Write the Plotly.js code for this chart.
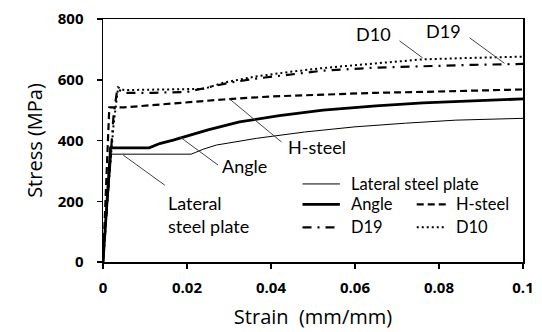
<!DOCTYPE html>
<html><head><meta charset="utf-8">
<script src="https://cdn.plot.ly/plotly-3.0.1.min.js"></script>
<style>html,body{margin:0;padding:0;background:#fff}#c{width:542px;height:332px}</style>
</head><body><div id="c"></div>
<script>
// Data (strain mm/mm, stress MPa)
const lateralStrain = [0, 0.002, 0.021, 0.024, 0.027, 0.0365, 0.048, 0.06, 0.072, 0.084, 0.1];
const lateralStress = [0, 355, 355, 372, 385, 407, 428, 445, 457, 467, 473];
const angleStrain = [0, 0.0018, 0.011, 0.0135, 0.0167, 0.025, 0.0325, 0.042, 0.0524, 0.065, 0.0762, 0.088, 0.1];
const angleStress = [0, 376, 376, 390, 401, 435, 461, 482, 500, 514, 524, 531, 537];
const hsteelStrain = [0, 0.0015, 0.005, 0.015, 0.0286, 0.04, 0.0524, 0.065, 0.076, 0.088, 0.1];
const hsteelStress = [0, 509, 509, 520, 535, 545, 552, 557, 560, 565, 568];
const d10Strain = [0, 0.001, 0.0025, 0.0036, 0.005, 0.012, 0.02, 0.024, 0.0286, 0.036, 0.0445, 0.052, 0.06, 0.068, 0.076, 0.088, 0.1];
const d10Stress = [0, 200, 450, 575, 566, 567, 567, 570, 590, 610, 626, 638, 648, 658, 667, 672, 676];
const d19Strain = [0, 0.001, 0.0025, 0.0034, 0.005, 0.012, 0.02, 0.025, 0.03, 0.0365, 0.0445, 0.0524, 0.065, 0.076, 0.088, 0.1];
const d19Stress = [0, 200, 480, 570, 557, 557, 560, 575, 590, 604, 618, 630, 640, 645, 649, 652];
const xTicks = [0, 0.02, 0.04, 0.06, 0.08, 0.1];
const xTickText = ['0', '0.02', '0.04', '0.06', '0.08', '0.1'];
const yTicks = [0, 200, 400, 600, 800];

const lblFont = {family: 'Lato, "Open Sans", sans-serif', size: 18, color: '#000'};
const legFont = {family: 'Lato, "Open Sans", sans-serif', size: 16.5, color: '#000'};

const traces = [
  {x: lateralStrain, y: lateralStress, mode: 'lines', line: {color: '#000', width: 1}, name: 'Lateral steel plate'},
  {x: angleStrain, y: angleStress, mode: 'lines', line: {color: '#000', width: 2.8}, name: 'Angle'},
  {x: hsteelStrain, y: hsteelStress, mode: 'lines', line: {color: '#000', width: 2.2, dash: '7px,4px'}, name: 'H-steel'},
  {x: d19Strain, y: d19Stress, mode: 'lines', line: {color: '#000', width: 2.2, dash: '9px,6px,2px,6px'}, name: 'D19'},
  {x: d10Strain, y: d10Stress, mode: 'lines', line: {color: '#000', width: 2, dash: '2px,3px'}, name: 'D10'}
];

function leader(x0, y0, x1, y1) {
  return {type: 'line', xref: 'x', yref: 'y', x0: x0, y0: y0, x1: x1, y1: y1, line: {color: '#444', width: 1}};
}
function sample(x0, x1, y, w, dash) {
  return {type: 'line', xref: 'x', yref: 'y', x0: x0, y0: y, x1: x1, y1: y, line: {color: '#000', width: w, dash: dash}};
}
function label(text, x, y, xanchor, font) {
  return {text: text, x: x, y: y, xref: 'x', yref: 'y', showarrow: false, xanchor: xanchor || 'center', yanchor: 'middle', align: 'left', font: font || lblFont, borderpad: 0};
}

const shapes = [
  leader(0.0706, 728, 0.0761, 672),
  leader(0.0873, 738, 0.0956, 654),
  leader(0.0302, 536, 0.0425, 395),
  leader(0.0183, 412, 0.0274, 319),
  leader(0.0048, 352, 0.0147, 253),
  sample(0.0475, 0.0564, 257, 1, 'solid'),
  sample(0.0475, 0.0564, 190, 2.8, 'solid'),
  sample(0.0747, 0.0818, 190, 2.2, '7px,4px'),
  sample(0.0475, 0.0564, 114, 2.2, '9px,6px,2px,6px'),
  sample(0.0747, 0.0818, 114, 2, '2px,3px')
];

const annotations = [
  label('D10', 0.0645, 750),
  label('D19', 0.0811, 760),
  label('H-steel', 0.0509, 378),
  label('Angle', 0.0337, 315),
  label('Lateral<br>steel plate', 0.0152, 157, 'left'),
  label('Lateral steel plate', 0.0587, 257, 'left', legFont),
  label('Angle', 0.0587, 190, 'left', legFont),
  label('H-steel', 0.0837, 190, 'left', legFont),
  label('D19', 0.0587, 114, 'left', legFont),
  label('D10', 0.0837, 114, 'left', legFont)
];

const tickFont = {family: '"Open Sans", sans-serif', size: 15, color: '#000', weight: 'bold'};
const titleFont = {family: '"Open Sans", sans-serif', size: 20, color: '#000'};

const layout = {
  width: 542, height: 332,
  margin: {l: 103, r: 19, t: 19, b: 70},
  paper_bgcolor: '#fff', plot_bgcolor: '#fff',
  showlegend: false,
  xaxis: {
    range: [0, 0.1], tickvals: xTicks, ticktext: xTickText,
    showgrid: false, zeroline: false,
    showline: true, linecolor: '#000', linewidth: 1.5, mirror: true,
    ticks: 'outside', ticklen: 5, tickwidth: 1.5, tickcolor: '#000',
    ticklabelstandoff: 6,
    tickfont: tickFont,
    title: {text: 'Strain  (mm/mm)', font: titleFont, standoff: 14}
  },
  yaxis: {
    range: [0, 800], tickvals: yTicks,
    showgrid: false, zeroline: false,
    showline: true, linecolor: '#000', linewidth: 1.5, mirror: true,
    ticks: 'outside', ticklen: 5, tickwidth: 1.5, tickcolor: '#000',
    ticklabelstandoff: 10,
    tickfont: tickFont,
    title: {text: 'Stress (MPa)', font: titleFont, standoff: 10}
  },
  shapes: shapes,
  annotations: annotations
};

Plotly.newPlot('c', traces, layout, {displayModeBar: false, staticPlot: true});
</script>
</body></html>
